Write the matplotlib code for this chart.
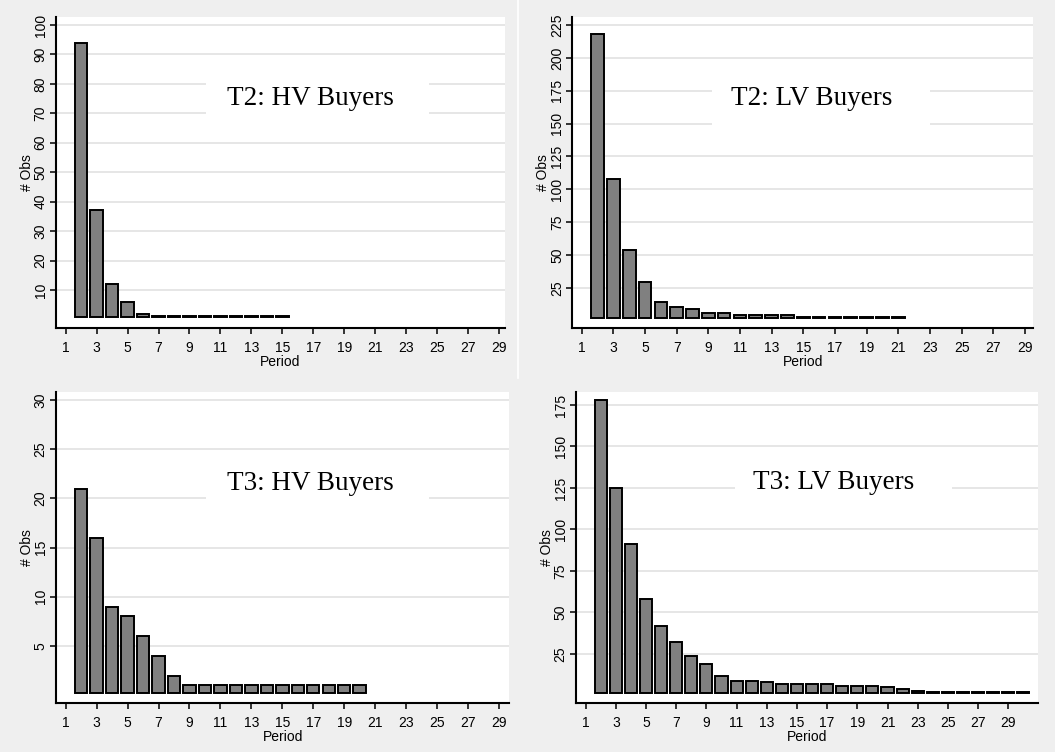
import matplotlib
matplotlib.use("Agg")
import matplotlib.pyplot as plt
from matplotlib.patches import Rectangle
from matplotlib.lines import Line2D

# ---- data: number of observations by period (bars start at period 2) ----
t2_hv_period = list(range(2, 16))
t2_hv_obs = [94, 37, 12, 6, 2, 1, 1, 1, 1, 1, 1, 1, 1, 1]

t2_lv_period = list(range(2, 22))
t2_lv_obs = [218, 108, 54, 29, 14, 10, 9, 6, 6, 4, 4, 4, 4,
             3, 3, 3, 3, 3, 3, 3]

t3_hv_period = list(range(2, 21))
t3_hv_obs = [21, 16, 9, 8, 6, 4, 2, 1, 1, 1, 1, 1, 1, 1, 1, 1, 1, 1, 1]

t3_lv_period = list(range(2, 31))
t3_lv_obs = [178, 125, 91, 58, 42, 32, 24, 19, 12, 9, 9, 8, 7, 7, 7, 7,
             6, 6, 6, 5, 4, 3, 2, 2, 2, 2, 2, 2, 2]

panel_titles = ["T2: HV Buyers", "T2: LV Buyers", "T3: HV Buyers", "T3: LV Buyers"]
x_ticks = list(range(1, 30, 2))
y_ticks_t2_hv = list(range(10, 101, 10))
y_ticks_t2_lv = list(range(25, 226, 25))
y_ticks_t3_hv = list(range(5, 31, 5))
y_ticks_t3_lv = list(range(25, 176, 25))

W, H = 1055, 752
BG = "#efefef"
BAR = "#808080"
GRID = "#e4e4e4"
SANS = ["Liberation Sans", "DejaVu Sans"]
SERIF = ["Liberation Serif", "DejaVu Serif"]

fig = plt.figure(figsize=(W / 100, H / 100), dpi=100, facecolor=BG)

# pixel boxes (left, top, right, bottom) of each plot region, axis limits,
# title anchor and blank label box in axes fractions
panels = [
    dict(box=(56, 16.7, 505, 328.3), x=t2_hv_period, y=t2_hv_obs,
         yticks=y_ticks_t2_hv, xlim=(0.373, 29.39), ylim=(-3.02, 102.8),
         title=panel_titles[0], tpos=(0.566, 0.717),
         lbox=(0.334, 0.646, 0.497, 0.193)),
    dict(box=(572.3, 16.7, 1033.3, 328.3), x=t2_lv_period, y=t2_lv_obs,
         yticks=y_ticks_t2_lv, xlim=(0.406, 29.53), ylim=(-5.9, 231.3),
         title=panel_titles[1], tpos=(0.519, 0.717),
         lbox=(0.303, 0.649, 0.473, 0.193)),
    dict(box=(56, 391.7, 509.3, 703.3), x=t3_hv_period, y=t3_hv_obs,
         yticks=y_ticks_t3_hv, xlim=(0.373, 29.67), ylim=(-0.82, 30.84),
         title=panel_titles[2], tpos=(0.561, 0.685),
         lbox=(0.331, 0.617, 0.492, 0.193)),
    dict(box=(576, 391.7, 1038, 703.3), x=t3_lv_period, y=t3_lv_obs,
         yticks=y_ticks_t3_lv, xlim=(0.357, 30.97), ylim=(-4.7, 183.0),
         title=panel_titles[3], tpos=(0.558, 0.688),
         lbox=(0.344, 0.617, 0.470, 0.193)),
]

for p in panels:
    l, t, r, b = p["box"]
    ax = fig.add_axes([l / W, 1 - b / H, (r - l) / W, (b - t) / H])
    ax.set_facecolor("white")
    ax.set_xlim(*p["xlim"])
    ax.set_ylim(*p["ylim"])

    # bars sit a couple of pixels above the zero line
    y0, y1 = p["ylim"]
    base = 2.5 * (y1 - y0) / (b - t)
    heights = [v - base for v in p["y"]]
    ax.bar(p["x"], heights, bottom=base, width=0.8, color=BAR,
           edgecolor="black", linewidth=1.4, zorder=2)

    ax.set_xticks(x_ticks)
    ax.set_yticks(p["yticks"])
    ax.set_axisbelow(True)
    ax.yaxis.grid(True, color=GRID, linewidth=1.3)
    ax.xaxis.grid(False)

    for side in ("top", "right"):
        ax.spines[side].set_visible(False)
    for side in ("left", "bottom"):
        ax.spines[side].set_linewidth(1.5)
        ax.spines[side].set_color("black")

    ax.tick_params(axis="both", direction="out", length=4.5, width=1.1,
                   colors="black", labelsize=10)
    ax.tick_params(axis="x", pad=4.5)
    ax.tick_params(axis="y", pad=1.5)
    for lab in ax.get_xticklabels() + ax.get_yticklabels():
        lab.set_fontfamily(SANS)
    for lab in ax.get_yticklabels():
        lab.set_rotation(90)
        lab.set_va("center")

    ax.set_xlabel("Period", fontsize=10, family=SANS, labelpad=0)
    ax.set_ylabel("# Obs", fontsize=10, family=SANS, labelpad=0)

    bx, by, bw, bh = p["lbox"]
    ax.add_patch(Rectangle((bx, by), bw, bh, transform=ax.transAxes,
                           facecolor="white", edgecolor="none", zorder=0.8))
    ax.text(p["tpos"][0], p["tpos"][1], p["title"], transform=ax.transAxes,
            ha="center", va="baseline", fontsize=19.5, family=SERIF,
            color="black", zorder=3)

# thin white seam between the two upper graphs
fig.add_artist(Line2D([518 / W, 518 / W], [1, 1 - 378 / H],
                      color="white", linewidth=1.2))

fig.savefig("out.png", dpi=100, facecolor=BG)
